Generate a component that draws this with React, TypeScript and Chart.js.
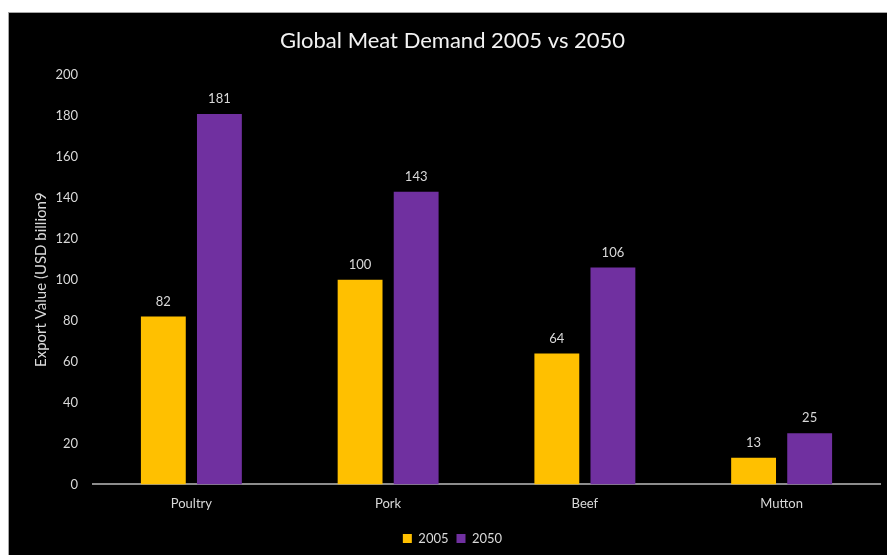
import React, { useEffect, useRef } from "react";
import { Chart, registerables } from "chart.js";

Chart.register(...registerables);

const categories = ["Poultry", "Pork", "Beef", "Mutton"];
const values2005 = [82, 100, 64, 13];
const values2050 = [181, 143, 106, 25];
const seriesNames = ["2005", "2050"];
const yTicks = [0, 20, 40, 60, 80, 100, 120, 140, 160, 180, 200];

const FONT = "Lato, 'Open Sans', sans-serif";
const TEXT = "#d9d9d9";

const valueLabels = {
  id: "valueLabels",
  afterDatasetsDraw(chart: any) {
    const ctx = chart.ctx;
    ctx.save();
    ctx.font = `13px ${FONT}`;
    ctx.fillStyle = TEXT;
    ctx.textAlign = "center";
    ctx.textBaseline = "middle";
    chart.data.datasets.forEach((ds: any, i: number) => {
      const meta = chart.getDatasetMeta(i);
      meta.data.forEach((bar: any, j: number) => {
        ctx.fillText(String(ds.data[j]), bar.x, bar.y - 15);
      });
    });
    ctx.restore();
  },
};

export default function App() {
  const ref = useRef<HTMLCanvasElement | null>(null);
  useEffect(() => {
    if (!ref.current) return;
    const chart = new Chart(ref.current, {
      type: "bar",
      data: {
        labels: categories,
        datasets: [
          { label: seriesNames[0], data: values2005, backgroundColor: "#FFC000", categoryPercentage: 0.57, barPercentage: 0.8 },
          { label: seriesNames[1], data: values2050, backgroundColor: "#7030A0", categoryPercentage: 0.57, barPercentage: 0.8 },
        ],
      },
      options: {
        animation: false,
        responsive: false,
        maintainAspectRatio: false,
        layout: { padding: { left: 16, right: 7, top: 0, bottom: 0 } },
        plugins: {
          title: {
            display: true,
            text: "Global Meat Demand 2005 vs 2050",
            color: "#f2f2f2",
            font: { family: FONT, size: 22, weight: "normal" },
            padding: { top: 15, bottom: 20.6 },
          },
          legend: {
            position: "bottom",
            labels: {
              color: TEXT,
              font: { family: FONT, size: 13 },
              boxWidth: 9,
              boxHeight: 9,
              padding: 8,
            },
          },
          tooltip: { enabled: false },
        },
        scales: {
          x: {
            grid: { display: false, drawTicks: false },
            border: { display: true, color: "#8c8c8c", width: 2 },
            ticks: { color: TEXT, font: { family: FONT, size: 13 }, padding: 12 },
          },
          y: {
            min: 0,
            max: 200,
            afterBuildTicks(scale: any) {
              scale.ticks = yTicks.map((v) => ({ value: v }));
            },
            afterFit(scale: any) {
              scale.width = 68;
            },
            grid: { display: false, drawTicks: false },
            border: { display: false },
            ticks: { color: TEXT, font: { family: FONT, size: 13 }, padding: 15 },
            title: {
              display: true,
              text: "Export Value (USD billion9",
              color: TEXT,
              font: { family: FONT, size: 15 },
              padding: { top: 7, bottom: 0 },
            },
          },
        },
      },
      plugins: [valueLabels],
    });
    return () => chart.destroy();
  }, []);
  return (
    <div
      style={{
        position: "fixed",
        left: 8,
        top: 12,
        width: 879,
        height: 543,
        background: "#000",
        borderLeft: "1px solid #a6a6a6",
        borderTop: "1px solid #a6a6a6",
        boxSizing: "border-box",
        overflow: "hidden",
      }}
    >
      <canvas ref={ref} width={878} height={542} style={{ display: "block" }} />
    </div>
  );
}
